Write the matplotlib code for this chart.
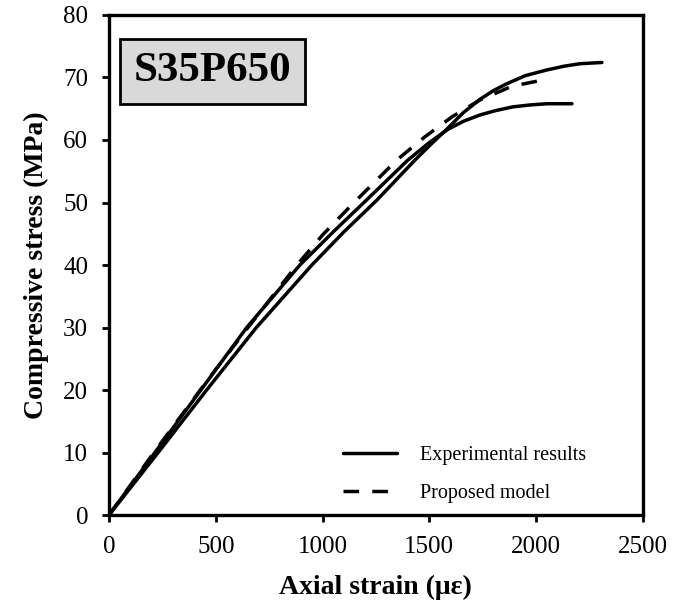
import numpy as np
import matplotlib
matplotlib.use("Agg")
import matplotlib.pyplot as plt

plt.rcParams['font.family'] = ['Liberation Serif', 'DejaVu Serif']

# test curves (strain in micro-strain, stress in MPa)
exp1_strain = [0, 215, 430, 645, 894, 1050, 1206, 1400, 1500, 1587, 1660, 1737, 1810, 1891, 1970, 2050, 2168]
exp1_stress = [0, 10.0, 20.0, 30.0, 40.0, 45.3, 50.4, 56.8, 59.6, 61.7, 63.0, 64.0, 64.7, 65.3, 65.6, 65.8, 65.8]

exp2_strain = [0, 230, 457, 690, 950, 1100, 1255, 1433, 1510, 1587, 1660, 1737, 1800, 1863, 1950, 2050, 2130, 2205, 2308]
exp2_stress = [0, 10.0, 20.0, 30.0, 40.0, 45.3, 50.4, 56.8, 59.4, 61.9, 64.4, 66.5, 67.9, 69.0, 70.3, 71.2, 71.8, 72.2, 72.4]

model_strain = [0, 210, 473, 660, 880, 1000, 1136, 1348, 1479, 1606, 1737, 1887, 2032, 2065]
model_stress = [0, 10.0, 22.1, 30.4, 40.0, 44.8, 49.6, 56.8, 60.5, 63.7, 66.4, 68.6, 69.6, 69.7]

fig = plt.figure(figsize=(6.92, 6.11), dpi=100)
ax = fig.add_axes([0.1575, 0.157, 0.7715, 0.8185])

lw = 2.5
ax.plot(exp1_strain, exp1_stress, color='black', lw=lw, solid_capstyle='round',
        solid_joinstyle='round', label='Experimental results')
ax.plot(exp2_strain, exp2_stress, color='black', lw=lw, solid_capstyle='round',
        solid_joinstyle='round')
ax.plot(model_strain, model_stress, color='black', lw=lw, ls=(0, (4.5, 3.8)),
        label='Proposed model')

ax.set_xlim(0, 2500)
ax.set_ylim(0, 80)
ax.set_xticks(np.arange(0, 2501, 500))
ax.set_yticks(np.arange(0, 81, 10))
ax.tick_params(direction='out', length=5, width=2, labelsize=18, pad=10)
for s in ax.spines.values():
    s.set_linewidth(2.4)

ax.set_xlabel('Axial strain (\u03bc\u03b5)', fontsize=20, fontweight='bold', labelpad=12)
ax.set_ylabel('Compressive stress (MPa)', fontsize=20, fontweight='bold', labelpad=10)

ax.text(0.046, 0.925, 'S35P650', transform=ax.transAxes, fontsize=31, fontweight='bold',
        va='top', ha='left',
        bbox=dict(boxstyle='square,pad=0.32', facecolor='#d9d9d9', edgecolor='black', lw=2))

leg = ax.legend(loc='upper left', bbox_to_anchor=(0.438, 0.138), frameon=False,
                fontsize=14.5, handlelength=2.7, labelspacing=0.95, handletextpad=1.15,
                borderpad=0, borderaxespad=0)

fig.savefig('out.png', dpi=100)
